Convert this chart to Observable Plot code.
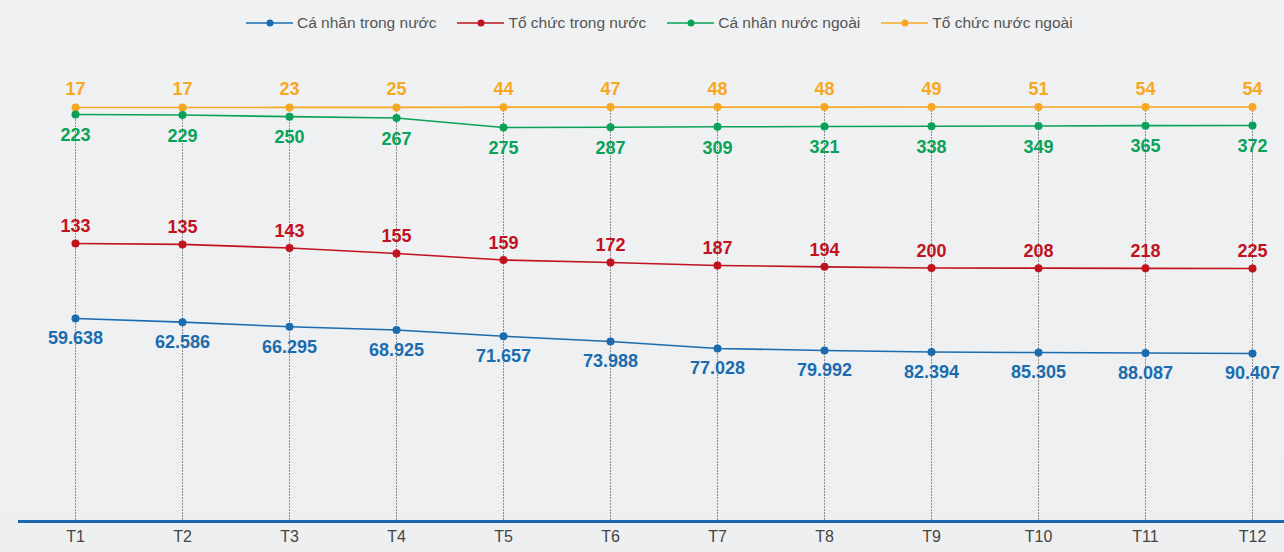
<!DOCTYPE html>
<html>
<head>
<meta charset="utf-8">
<script src="https://cdn.jsdelivr.net/npm/d3@7"></script>
<script src="https://cdn.jsdelivr.net/npm/@observablehq/plot@0.6"></script>
<style>
  html, body { margin: 0; padding: 0; }
  body { background: #eef0f1; font-family: "Liberation Sans", Arial, Helvetica, sans-serif; }
  #wrap { position: relative; width: 1284px; height: 552px; overflow: hidden;
          background: linear-gradient(180deg, #eff1f2 0%, #edeff0 100%); }
  #wrap svg { position: absolute; left: 0; top: 0; }
  #legend { position: absolute; top: 14px; left: 246px; display: flex; align-items: center;
            font-size: 15.5px; color: #555; white-space: nowrap; }
  .item { display: flex; align-items: center; margin-right: 21px; }
  .item svg { position: static !important; margin-right: 4px; }
</style>
</head>
<body>
<div id="wrap"><div id="legend"></div></div>
<script>
// ---- data ----
const months = ["T1","T2","T3","T4","T5","T6","T7","T8","T9","T10","T11","T12"];
const seriesNames = ["Cá nhân trong nước", "Tổ chức trong nước", "Cá nhân nước ngoài", "Tổ chức nước ngoài"];
const caNhanTrongNuoc = [59638, 62586, 66295, 68925, 71657, 73988, 77028, 79992, 82394, 85305, 88087, 90407];
const toChucTrongNuoc = [133, 135, 143, 155, 159, 172, 187, 194, 200, 208, 218, 225];
const caNhanNuocNgoai = [223, 229, 250, 267, 275, 287, 309, 321, 338, 349, 365, 372];
const toChucNuocNgoai = [17, 17, 23, 25, 44, 47, 48, 48, 49, 51, 54, 54];

const fmt = d3.formatLocale({decimal: ",", thousands: ".", grouping: [3], currency: ["", ""]}).format(",d");

const W = 1284, H = 552;
const xScale = {type: "point", domain: months, range: [74.7, 1252.7], padding: 0, axis: null};

// each series is drawn on its own layer with its own y scale
const layers = [
  {name: seriesNames[3], values: toChucNuocNgoai, color: "#f7a823",
   y: {domain: [17, 54], range: [107, 106.5]}, dy: -18, base: true},
  {name: seriesNames[2], values: caNhanNuocNgoai, color: "#0aa259",
   y: {domain: [223, 229, 267, 275, 372], range: [114, 114.5, 117.5, 127, 125]}, dy: 21},
  {name: seriesNames[1], values: toChucTrongNuoc, color: "#c0131f",
   y: {domain: [133, 155, 159, 200, 225], range: [243, 253, 259.5, 267.5, 268]}, dy: -17},
  {name: seriesNames[0], values: caNhanTrongNuoc, color: "#1a6caf",
   y: {domain: [59638, 68925, 77028, 82394, 90407], range: [318, 329.5, 348, 351.5, 353]}, dy: 20}
];

const wrap = document.getElementById("wrap");

for (const L of layers) {
  const rows = L.values.map((v, i) => ({month: months[i], value: v}));
  const marks = [];
  if (L.base) {
    marks.push(
      Plot.ruleX(months, {x: d => d, stroke: "#8c8c8c", strokeWidth: 1, strokeDasharray: "2,1"}),
      Plot.frame({anchor: "bottom", stroke: "#1a68ac", strokeWidth: 3}),
      Plot.text(months, {x: d => d, frameAnchor: "bottom", dy: 20, fill: "#444",
                         fontSize: 16, fontFamily: "Liberation Sans, Arial, sans-serif"})
    );
  }
  marks.push(
    Plot.line(rows, {x: "month", y: "value", stroke: L.color, strokeWidth: 1.6}),
    Plot.dot(rows, {x: "month", y: "value", r: 4, fill: L.color}),
    Plot.text(rows, {x: "month", y: "value", text: d => fmt(d.value), dy: L.dy, fill: L.color,
                     fontSize: 18, fontWeight: "bold", fontFamily: "Liberation Sans, Arial, sans-serif"})
  );
  const chart = Plot.plot({
    width: W, height: H,
    marginTop: 107, marginBottom: 31, marginLeft: 19, marginRight: 0,
    x: xScale,
    y: {type: "linear", ...L.y, axis: null},
    style: {background: "transparent", overflow: "visible"},
    marks
  });
  wrap.appendChild(chart);
}

// legend
const legend = document.getElementById("legend");
const order = [
  {name: seriesNames[0], color: "#1a6caf"},
  {name: seriesNames[1], color: "#c0131f"},
  {name: seriesNames[2], color: "#0aa259"},
  {name: seriesNames[3], color: "#f7a823"}
];
for (const s of order) {
  const item = document.createElement("div");
  item.className = "item";
  item.innerHTML = `<svg width="47" height="10"><line x1="0" x2="47" y1="5" y2="5" stroke="${s.color}" stroke-width="1.6"/><circle cx="24" cy="5" r="3.5" fill="${s.color}"/></svg><span>${s.name}</span>`;
  legend.appendChild(item);
}
</script>
</body>
</html>
